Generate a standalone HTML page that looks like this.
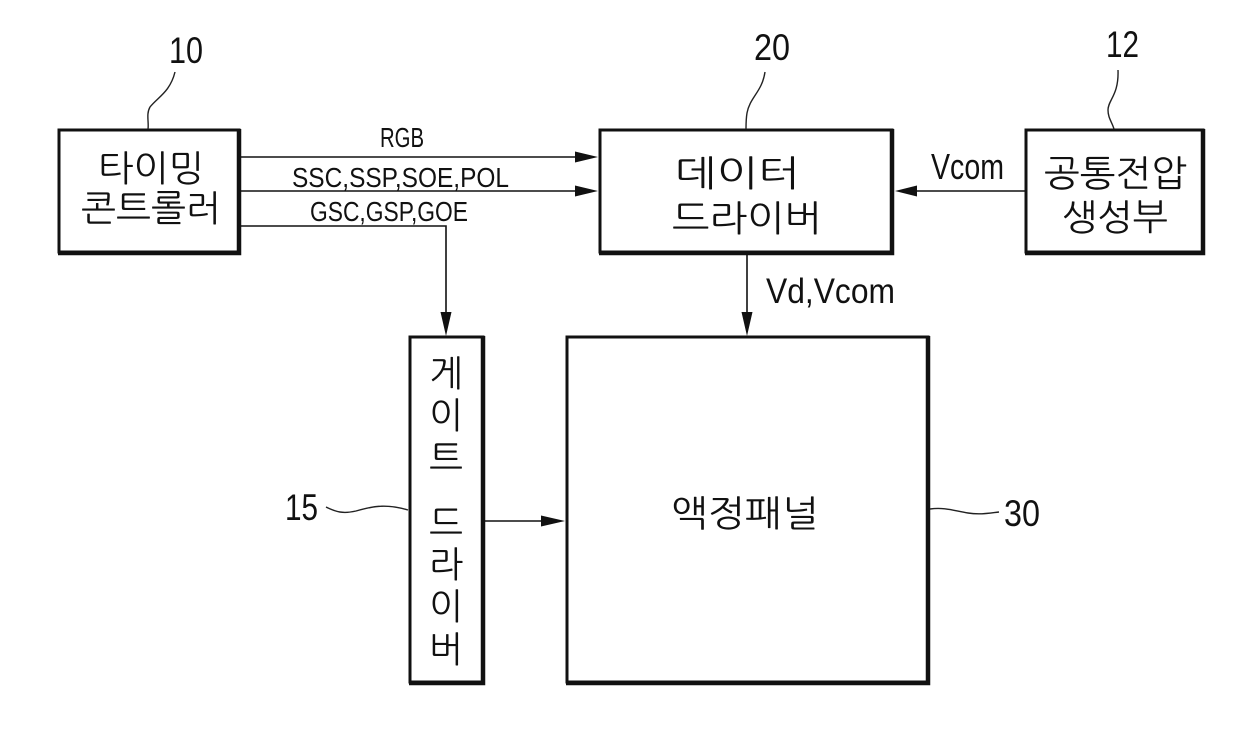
<!DOCTYPE html>
<html lang="ko">
<head>
<meta charset="utf-8">
<style>
html,body{margin:0;padding:0;background:#fff;width:1240px;height:733px;overflow:hidden}
svg{display:block}
.k{font-family:"Liberation Sans","NanumGothic","Noto Sans CJK KR",sans-serif;fill:#111}
.l{font-family:"Liberation Sans",sans-serif;fill:#111}
.box{fill:#fff;stroke:#111;stroke-width:3}
.thick{fill:none;stroke:#111;stroke-width:4.5}
.w{fill:none;stroke:#222;stroke-width:1.4}
.c{fill:none;stroke:#111;stroke-width:1.6}
</style>
</head>
<body>
<svg width="1240" height="733" viewBox="0 0 1240 733" xmlns="http://www.w3.org/2000/svg">
<rect width="1240" height="733" fill="#fff"/>

<!-- boxes: thin top/left, heavier right/bottom -->
<rect class="box" x="59" y="130" width="180" height="122"/>
<path class="thick" d="M239 129V253H58"/>
<rect class="box" x="600" y="130" width="292" height="122"/>
<path class="thick" d="M892 129V253H599"/>
<rect class="box" x="1026" y="130" width="177" height="122"/>
<path class="thick" d="M1203 129V253H1025"/>
<rect class="box" x="410" y="337" width="73" height="345"/>
<path class="thick" d="M483 336V683H409"/>
<rect class="box" x="567" y="337" width="361" height="345"/>
<path class="thick" d="M928 336V683H566"/>

<!-- connectors -->
<path class="c" d="M241 157H580M241 191H580M241 226H446V318M1025 191H910M747 254V318M485 521H548"/>
<path d="M598 157L575 151.500V162.500Z M598 191L575 185.500V196.500Z M446 336L440.500 312H451.500Z M895 191L917 185.500V196.500Z M747 336L741.500 312H752.500Z M565 521L541 515.500V526.500Z" fill="#111"/>

<!-- reference leaders -->
<path class="w" d="M175 72C170 92 158 97 150 107C146 114 149 122 148 129"/>
<path class="w" d="M765 72C762 92 750 97 747 113C746 119 746 125 746 129"/>
<path class="w" d="M1118 70C1119 95 1108 100 1108 110C1108 118 1112 122 1114 129"/>
<path class="w" d="M326 507C336 512 343 514 356 511C370 507 385 503 408 510"/>
<path class="w" d="M930 509C945 507 955 511 968 513C980 515 990 513 999 512"/>

<!-- reference numerals -->
<text class="l" x="169" y="63" font-size="37" textLength="34" lengthAdjust="spacingAndGlyphs">10</text>
<text class="l" x="754" y="60" font-size="37" textLength="36" lengthAdjust="spacingAndGlyphs">20</text>
<text class="l" x="1106" y="57" font-size="37" textLength="33" lengthAdjust="spacingAndGlyphs">12</text>
<text class="l" x="285" y="520" font-size="37" textLength="33" lengthAdjust="spacingAndGlyphs">15</text>
<text class="l" x="1004" y="526" font-size="37" textLength="36" lengthAdjust="spacingAndGlyphs">30</text>

<!-- signal labels -->
<text class="l" x="380" y="147" font-size="28" textLength="44" lengthAdjust="spacingAndGlyphs">RGB</text>
<text class="l" x="292" y="187" font-size="28" textLength="217" lengthAdjust="spacingAndGlyphs">SSC,SSP,SOE,POL</text>
<text class="l" x="310" y="221" font-size="28" textLength="158" lengthAdjust="spacingAndGlyphs">GSC,GSP,GOE</text>
<text class="l" x="931" y="179" font-size="36" textLength="73" lengthAdjust="spacingAndGlyphs">Vcom</text>
<text class="l" x="766" y="303" font-size="35" textLength="129" lengthAdjust="spacingAndGlyphs">Vd,Vcom</text>

<!-- Korean labels -->
<text class="k" x="98" y="181" font-size="36" textLength="106" lengthAdjust="spacingAndGlyphs">타이밍</text>
<text class="k" x="81" y="221" font-size="36" textLength="140" lengthAdjust="spacingAndGlyphs">콘트롤러</text>
<text class="k" x="675" y="186" font-size="36" textLength="125" lengthAdjust="spacingAndGlyphs">데이터</text>
<text class="k" x="672" y="231" font-size="36" textLength="150" lengthAdjust="spacingAndGlyphs">드라이버</text>
<text class="k" x="1044" y="186" font-size="36" textLength="143" lengthAdjust="spacingAndGlyphs">공통전압</text>
<text class="k" x="1062" y="230" font-size="36" textLength="106" lengthAdjust="spacingAndGlyphs">생성부</text>
<text class="k" x="671" y="526" font-size="36" textLength="148" lengthAdjust="spacingAndGlyphs">액정패널</text>

<text class="k" x="446" y="386" font-size="36" text-anchor="middle">게</text>
<text class="k" x="446" y="428" font-size="36" text-anchor="middle">이</text>
<text class="k" x="446" y="471" font-size="36" text-anchor="middle">트</text>
<text class="k" x="446" y="536" font-size="36" text-anchor="middle">드</text>
<text class="k" x="446" y="577" font-size="36" text-anchor="middle">라</text>
<text class="k" x="446" y="619" font-size="36" text-anchor="middle">이</text>
<text class="k" x="446" y="662" font-size="36" text-anchor="middle">버</text>
</svg>
</body>
</html>
